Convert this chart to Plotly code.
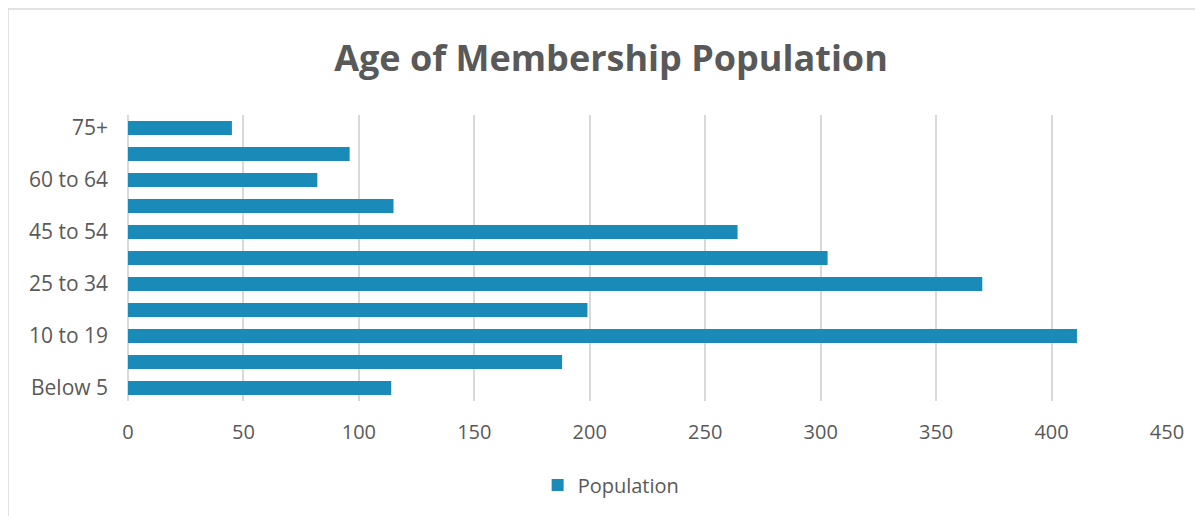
import plotly.graph_objects as go

categories = ["Below 5", "5 to 9", "10 to 19", "20 to 24", "25 to 34", "35 to 44",
              "45 to 54", "55 to 59", "60 to 64", "65 to 74", "75+"]
population = [114, 188, 411, 199, 370, 303, 264, 115, 82, 96, 45]
shown_labels = ["Below 5", "10 to 19", "25 to 34", "45 to 54", "60 to 64", "75+"]
x_ticks = [0, 50, 100, 150, 200, 250, 300, 350, 400, 450]

W, H = 1203, 516
OFF = 8  # page body offset
L, R, T, B = 128 - OFF, 36 + OFF, 115 - OFF, 115 + OFF
pw, ph = W - L - R, H - T - B

fig = go.Figure()
fig.add_trace(go.Bar(
    y=categories, x=population, orientation="h", name="Population",
    marker=dict(color="#1a8ab9", line=dict(width=0)),
    showlegend=True,
))

fig.update_layout(
    width=W, height=H,
    margin=dict(l=L, r=R, t=T, b=B),
    paper_bgcolor="white", plot_bgcolor="white",
    bargap=0.46,
    title=dict(text="<b>Age of Membership Population</b>", x=(611 - OFF) / W, xanchor="center",
               y=1 - (58 - OFF) / H, yanchor="middle",
               font=dict(family="Open Sans", size=36, color="#595959")),
    font=dict(family="Open Sans", color="#595959"),
    xaxis=dict(range=[0, 450], tickvals=x_ticks, showgrid=True, gridcolor="#d9d9d9",
               gridwidth=1.5, zeroline=True, zerolinecolor="#d9d9d9", zerolinewidth=1.5,
               showline=False, ticks="", ticklabelstandoff=17,
               tickfont=dict(size=20, color="#595959"), fixedrange=True),
    yaxis=dict(categoryorder="array", categoryarray=categories, tickvals=shown_labels,
               showgrid=False, ticks="", showline=False, ticklabelstandoff=19,
               tickfont=dict(size=21, color="#595959"), range=[-0.5, 10.5]),
    legend=dict(orientation="h", x=0.465, xanchor="center", y=-(485 - OFF - (T + ph)) / ph,
                yanchor="middle", font=dict(size=20, color="#595959"),
                itemwidth=30),
    shapes=[dict(type="rect", xref="paper", yref="paper",
                 x0=-(L - (8 - OFF)) / pw, x1=1.2, y0=-0.7, y1=1 + (T - (9 - OFF)) / ph,
                 line=dict(color="#d9d9d9", width=1.5), layer="below")],
)

fig.write_html("out.html")
